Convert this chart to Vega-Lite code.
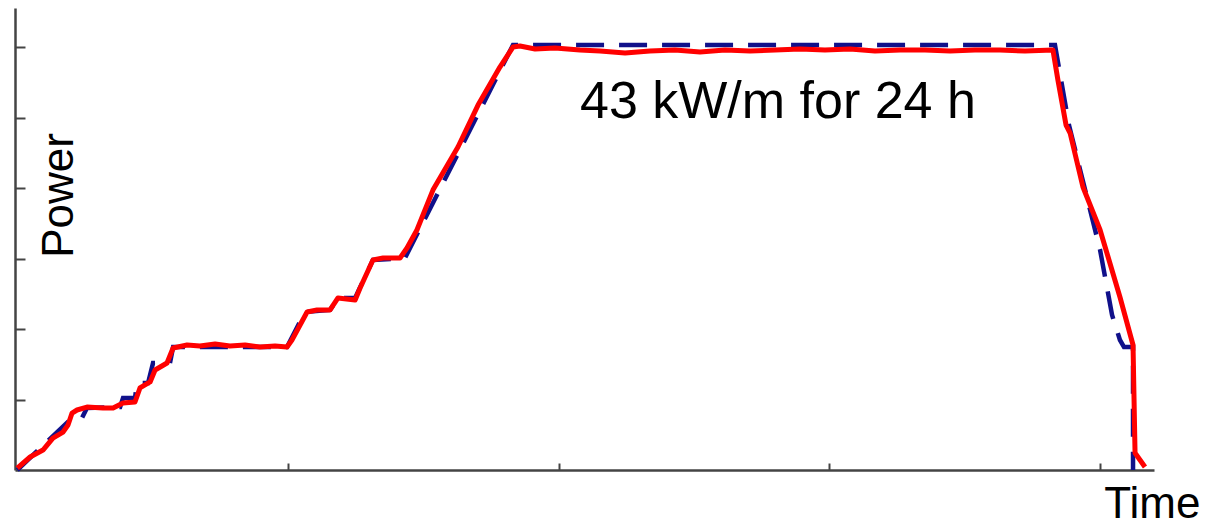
{
  "$schema": "https://vega.github.io/schema/vega-lite/v6.json",
  "width": 1139,
  "height": 462,
  "autosize": {"type": "none"},
  "padding": {"left": 15, "top": 8, "right": 65, "bottom": 55},
  "background": "white",
  "config": {"view": {"stroke": null}},
  "datasets": {
    "target": [
      {"t": 0, "p": 0}, {"t": 2.43, "p": 5.29}, {"t": 2.87, "p": 5.29}, {"t": 3.09, "p": 6.3},
      {"t": 4.56, "p": 6.4}, {"t": 4.69, "p": 7.32}, {"t": 5.22, "p": 7.32}, {"t": 5.31, "p": 8.84},
      {"t": 5.8, "p": 8.84}, {"t": 6.02, "p": 10.88}, {"t": 6.77, "p": 10.88}, {"t": 6.91, "p": 12.5},
      {"t": 11.96, "p": 12.5}, {"t": 12.76, "p": 16.06}, {"t": 13.87, "p": 16.27}, {"t": 14.22, "p": 17.49},
      {"t": 14.98, "p": 17.49}, {"t": 15.77, "p": 21.35}, {"t": 17.19, "p": 21.55}, {"t": 21.98, "p": 43.2},
      {"t": 46.01, "p": 43.2}, {"t": 46.63, "p": 35.07}, {"t": 48.01, "p": 22.36}, {"t": 48.54, "p": 15.76},
      {"t": 48.89, "p": 13.22}, {"t": 49.07, "p": 12.5}, {"t": 49.47, "p": 12.5}, {"t": 49.47, "p": 0}
    ],
    "measured": [
      {"t": 0, "p": 0.2}, {"t": 0.57, "p": 1.32}, {"t": 1.14, "p": 2.03}, {"t": 1.58, "p": 3.25},
      {"t": 2.03, "p": 3.86}, {"t": 2.25, "p": 4.57}, {"t": 2.43, "p": 5.79}, {"t": 2.65, "p": 6.1},
      {"t": 3.09, "p": 6.4}, {"t": 3.8, "p": 6.3}, {"t": 4.25, "p": 6.3}, {"t": 4.69, "p": 6.81},
      {"t": 5.22, "p": 6.91}, {"t": 5.44, "p": 8.34}, {"t": 5.89, "p": 8.95}, {"t": 6.11, "p": 10.17},
      {"t": 6.64, "p": 10.88}, {"t": 6.91, "p": 12.4}, {"t": 7.53, "p": 12.71}, {"t": 8.1, "p": 12.61},
      {"t": 8.77, "p": 12.81}, {"t": 9.43, "p": 12.61}, {"t": 10.1, "p": 12.71}, {"t": 10.76, "p": 12.5},
      {"t": 11.43, "p": 12.61}, {"t": 11.96, "p": 12.5}, {"t": 12.18, "p": 13.22}, {"t": 12.85, "p": 16.06},
      {"t": 13.29, "p": 16.27}, {"t": 13.87, "p": 16.27}, {"t": 14.22, "p": 17.49}, {"t": 14.98, "p": 17.28},
      {"t": 15.2, "p": 18.5}, {"t": 15.77, "p": 21.35}, {"t": 16.22, "p": 21.55}, {"t": 16.97, "p": 21.55},
      {"t": 17.28, "p": 22.57}, {"t": 17.72, "p": 24.4}, {"t": 18.43, "p": 28.46}, {"t": 19.54, "p": 32.84},
      {"t": 20.43, "p": 37.1}, {"t": 21.4, "p": 40.97}, {"t": 21.98, "p": 43.0}, {"t": 22.29, "p": 43.1},
      {"t": 22.96, "p": 42.8}, {"t": 23.84, "p": 42.9}, {"t": 24.95, "p": 42.7}, {"t": 25.84, "p": 42.59},
      {"t": 26.95, "p": 42.39}, {"t": 28.05, "p": 42.59}, {"t": 29.16, "p": 42.7}, {"t": 30.27, "p": 42.49},
      {"t": 31.38, "p": 42.7}, {"t": 32.49, "p": 42.59}, {"t": 33.6, "p": 42.7}, {"t": 34.71, "p": 42.8},
      {"t": 35.81, "p": 42.7}, {"t": 36.92, "p": 42.8}, {"t": 38.03, "p": 42.59}, {"t": 39.14, "p": 42.7},
      {"t": 40.25, "p": 42.7}, {"t": 41.36, "p": 42.59}, {"t": 42.46, "p": 42.7}, {"t": 43.57, "p": 42.7},
      {"t": 44.68, "p": 42.59}, {"t": 45.92, "p": 42.7}, {"t": 46.14, "p": 39.65}, {"t": 46.5, "p": 35.07},
      {"t": 46.68, "p": 34.26}, {"t": 47.25, "p": 28.77}, {"t": 48.01, "p": 24.4}, {"t": 48.89, "p": 17.59},
      {"t": 49.47, "p": 12.71}, {"t": 49.56, "p": 1.73}, {"t": 50.0, "p": 0.3}
    ],
    "note": [
      {"t": 24.95, "p": 35.78, "label": "43 kW/m for 24 h"}
    ]
  },
  "encoding": {
    "x": {
      "field": "t", "type": "quantitative",
      "scale": {"domain": [-0.1, 50.4], "nice": false, "zero": false},
      "axis": {
        "values": [12, 24, 36, 48], "labels": false, "grid": false,
        "domainColor": "#444444", "domainWidth": 2.5,
        "tickColor": "#444444", "tickWidth": 2, "tickSize": -7,
        "title": "Time", "titleFont": "Liberation Sans", "titleFontSize": 44,
        "titleFontWeight": "normal", "titleColor": "black",
        "titleX": 1185, "titleY": 47, "titleAlign": "right", "titleBaseline": "alphabetic"
      }
    },
    "y": {
      "field": "p", "type": "quantitative",
      "scale": {"domain": [0, 46.97], "nice": false, "zero": false},
      "axis": {
        "values": [7.167, 14.333, 21.5, 28.667, 35.833, 43], "labels": false, "grid": false,
        "domainColor": "#444444", "domainWidth": 2.5,
        "tickColor": "#444444", "tickWidth": 2, "tickSize": -10,
        "title": "Power", "titleFont": "Liberation Sans", "titleFontSize": 44,
        "titleFontWeight": "normal", "titleColor": "black", "titleAngle": -90,
        "titleX": 57, "titleY": 187, "titleAlign": "center", "titleBaseline": "alphabetic"
      }
    }
  },
  "layer": [
    {
      "data": {"name": "target"},
      "mark": {"type": "line", "color": "#10108a", "strokeWidth": 4.5, "strokeDash": [28, 15]},
      "encoding": {"order": {"value": null}}
    },
    {
      "data": {"name": "measured"},
      "mark": {"type": "line", "color": "#ff0000", "strokeWidth": 5, "strokeJoin": "round"},
      "encoding": {"order": {"value": null}}
    },
    {
      "data": {"name": "note"},
      "mark": {"type": "text", "font": "Liberation Sans", "fontSize": 52, "align": "left", "baseline": "alphabetic", "color": "black"},
      "encoding": {"text": {"field": "label"}}
    }
  ]
}
